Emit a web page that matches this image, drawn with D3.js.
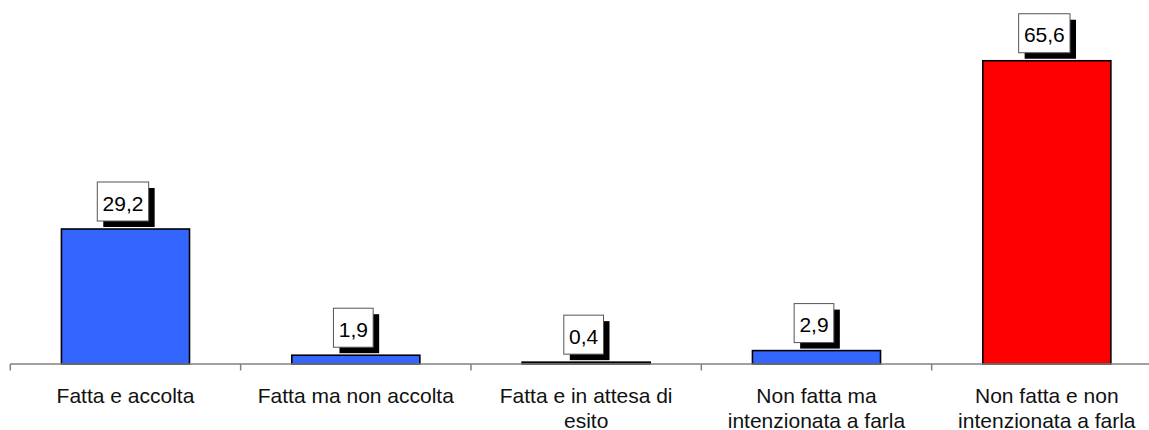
<!DOCTYPE html>
<html>
<head>
<meta charset="utf-8">
<script src="https://cdn.jsdelivr.net/npm/d3@7/dist/d3.min.js"></script>
<style>
  html, body { margin: 0; padding: 0; background: #fff; }
  svg { display: block; }
</style>
</head>
<body>
<svg id="chart" width="1149" height="430"></svg>
<script>
const categories = [
  ["Fatta e accolta"],
  ["Fatta ma non accolta"],
  ["Fatta e in attesa di", "esito"],
  ["Non fatta ma", "intenzionata a farla"],
  ["Non fatta e non", "intenzionata a farla"]
];
const values = [29.2, 1.9, 0.4, 2.9, 65.6];
const valueLabels = ["29,2", "1,9", "0,4", "2,9", "65,6"];
const barColors = ["#3366FF", "#3366FF", "#3366FF", "#3366FF", "#FF0000"];

const svg = d3.select("#chart");
const W = 1149, H = 430;
const left = 10.3, right = 1162, baseY = 364, topY = 40.4;
const font = "'Liberation Sans', Arial, sans-serif";

const idx = d3.range(values.length);
const x = d3.scaleBand().domain(idx).range([left, right]).paddingInner(0).paddingOuter(0);
const y = d3.scaleLinear().domain([0, 70]).range([baseY, topY]);

const bw = x.bandwidth();
const barW = bw * 0.556;

// bars
svg.selectAll("rect.bar").data(idx).enter().append("rect")
  .attr("class", "bar")
  .attr("x", i => x(i) + (bw - barW) / 2)
  .attr("y", i => y(values[i]))
  .attr("width", barW)
  .attr("height", i => y(0) - y(values[i]))
  .attr("fill", i => barColors[i])
  .attr("stroke", "#000")
  .attr("stroke-width", 1.6);

// axis line
svg.append("line")
  .attr("x1", left).attr("x2", W)
  .attr("y1", baseY).attr("y2", baseY)
  .attr("stroke", "#808080").attr("stroke-width", 1.5);

// ticks at band boundaries
const tickPos = idx.map(i => x(i)).concat([x(values.length - 1) + bw]);
svg.selectAll("line.tick").data(tickPos).enter().append("line")
  .attr("class", "tick")
  .attr("x1", d => d).attr("x2", d => d)
  .attr("y1", baseY).attr("y2", baseY + 6.5)
  .attr("stroke", "#808080").attr("stroke-width", 1.5);

// category labels
const catG = svg.selectAll("text.cat").data(idx).enter().append("text")
  .attr("class", "cat")
  .attr("x", i => x(i) + bw / 2)
  .attr("y", 402.5)
  .attr("text-anchor", "middle")
  .attr("font-family", font)
  .attr("font-size", 21)
  .attr("fill", "#111");
catG.each(function(i) {
  const t = d3.select(this);
  categories[i].forEach((line, k) => {
    t.append("tspan")
      .attr("x", x(i) + bw / 2)
      .attr("dy", k === 0 ? 0 : 25.5)
      .text(line);
  });
});

// value labels with shadowed boxes
idx.forEach(i => {
  const cx = x(i) + bw / 2 - 2.5;
  const g = svg.append("g");
  const shadow = g.append("rect").attr("fill", "#000");
  const box = g.append("rect").attr("fill", "#fff").attr("stroke", "#555").attr("stroke-width", 1);
  const txt = g.append("text")
    .attr("x", cx)
    .attr("text-anchor", "middle")
    .attr("font-family", font)
    .attr("font-size", 21)
    .attr("fill", "#000")
    .text(valueLabels[i]);
  const tw = txt.node().getComputedTextLength();
  const boxW = tw + 10.5;
  const boxH = 39;
  const boxBottom = y(values[i]) - 8;
  const boxTop = boxBottom - boxH;
  txt.attr("y", boxBottom - 10.3);
  box.attr("x", cx - boxW / 2).attr("y", boxTop).attr("width", boxW).attr("height", boxH);
  shadow.attr("x", cx - boxW / 2 + 6).attr("y", boxTop + 6).attr("width", boxW).attr("height", boxH);
});
</script>
</body>
</html>
